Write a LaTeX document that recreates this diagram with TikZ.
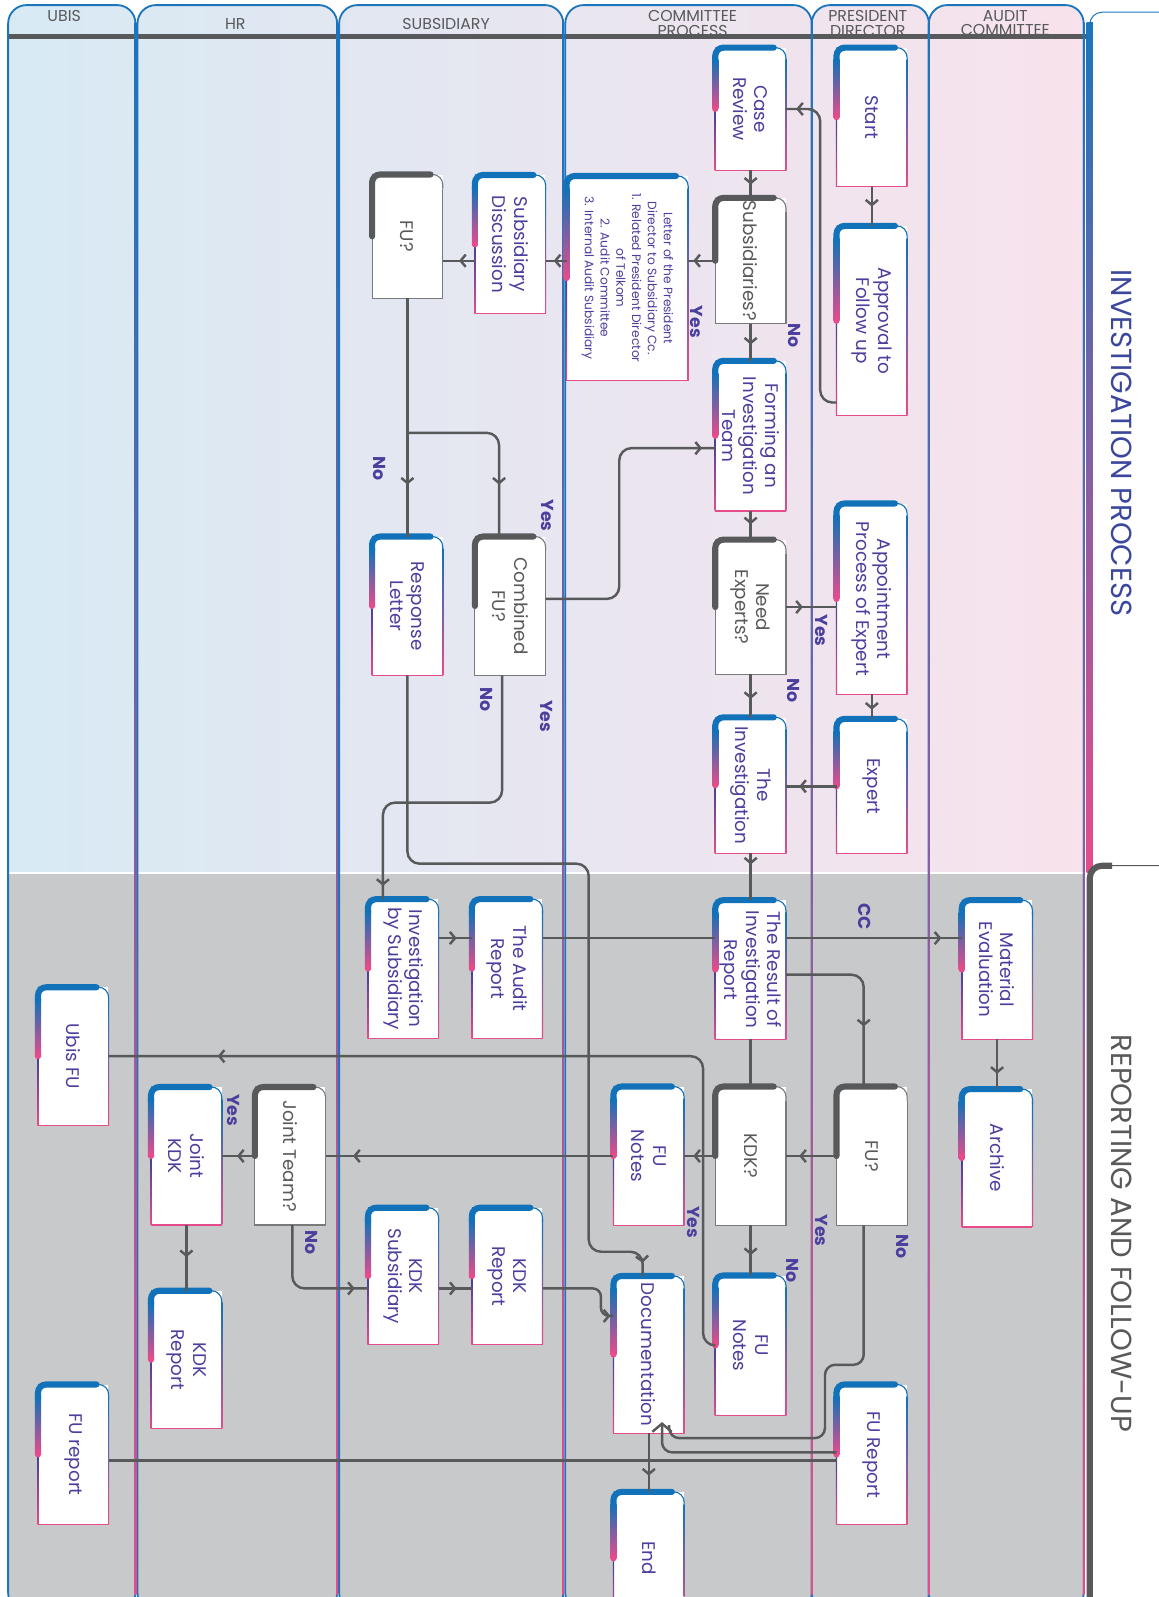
\documentclass[tikz,border=0pt]{standalone}
\usepackage{fontspec}
\setmainfont{Poppins}
\usepackage{tikz}
\usetikzlibrary{arrows.meta,calc,decorations.markings}

\definecolor{lineg}{HTML}{58595B}
\definecolor{accblue}{HTML}{1172BA}
\definecolor{accpurple}{HTML}{433F98}
\definecolor{accpink}{HTML}{E64C8B}
\definecolor{ink}{HTML}{4B3F9D}
\definecolor{lanec}{HTML}{1B75BC}
\definecolor{bggray}{HTML}{C8C9CB}
\definecolor{bgblue}{HTML}{D7EAF4}
\definecolor{bgmid}{HTML}{E5E2F0}
\definecolor{bgpink}{HTML}{F8E2EC}

\newcommand\cardfont{\fontsize{18}{21}\selectfont}
\newcommand\letterfont{\fontsize{12}{15.5}\selectfont}

\begin{document}
\begin{tikzpicture}[x=1pt,y=-1pt,
  >={Straight Barb[length=5pt,width=12pt]},
  proc/.style={fill=white,inner sep=0pt,minimum width=69,minimum height=#1},
  dec/.style={proc=#1},
  vtext/.style={rotate=-90,align=center,font=\cardfont,text=ink,inner sep=0pt},
  dtext/.style={vtext,text=lineg},
  link/.style={lineg,line width=2.4,rounded corners=12},
  flow/.style={link,postaction={decorate,decoration={markings,mark=at position #1 with {\arrow{>}}}}},
  flow/.default=-13pt,
  chev/.style={link,rounded corners=10,-{Straight Barb[length=8pt,width=19pt]}},
  yes/.style={rotate=-90,font=\fontsize{17}{17}\selectfont\bfseries,text=ink},
  lanetitle/.style={font=\fontsize{15.5}{14}\selectfont,text=lineg,align=center},
  phase/.style={rotate=-90,font=\fontsize{28.5}{28.5}\selectfont}
]
  \useasboundingbox (0,0) rectangle (1137,1568);

  % swimlanes
  \begin{scope}
    \clip[rounded corners=18] (8,5) rectangle (133,1582) (135,5) rectangle (331,1582)
      (333,5) rectangle (553,1582) (555,5) rectangle (797,1582)
      (797,5) rectangle (912,1582) (912,5) rectangle (1064,1582);
    \shade[left color=bgblue,middle color=bgmid,right color=bgpink] (0,0) rectangle (1070,857);
    \fill[bggray] (0,857) rectangle (1070,1600);
    \draw[white,line width=1.5] (0,857) -- (1070,857);
  \end{scope}
  \node[lanetitle] (tubis) at (63,16) {UBIS};
  \node[lanetitle] (thr) at (231,24) {HR};
  \node[lanetitle] (tsub) at (438,24) {SUBSIDIARY};
  \node[lanetitle] (tcom) at (680,23) {COMMITTEE\\PROCESS};
  \node[lanetitle] (tpd) at (852,23) {PRESIDENT\\DIRECTOR};
  \node[lanetitle] (taud) at (987,23) {AUDIT\\COMMITTEE};
  \draw[lineg,line width=4.5] (8,36) -- (1068,36);
  \foreach \l/\r in {8/133,135/331,333/553,555/797,797/912,912/1064}
    \draw[lanec,line width=1.8,rounded corners=18] (\l,5) rectangle (\r,1582);
  \foreach \r in {133,331,553,797,912,1064}
    \shade[top color=lanec,middle color=accpurple,bottom color=accpink] (\r-0.9,22) rectangle (\r+0.9,1566);

  % phase tabs
  \draw[lanec,line width=1,fill=white,rounded corners=12] (1070,857) -- (1070,12) -- (1150,12) -- (1150,857);
  \shade[top color=lanec,middle color=accpurple,bottom color=accpink] (1067,22) rectangle (1073,857);
  \draw[lineg,line width=1,fill=white,rounded corners=12] (1070,1600) -- (1070,850) -- (1150,850) -- (1150,1600);
  \draw[lineg,line width=6,rounded corners=12] (1070,1600) -- (1070,850) -- (1092,850);
  \node[phase,text=accpurple!85!accblue] (phaseinv) at (1101,435) {INVESTIGATION PROCESS};
  \node[phase,text=lineg] (phaserep) at (1101,1211) {REPORTING AND FOLLOW-UP};

  % president director
  \node[proc=136,label={[vtext]center:Start}] (start) at (856,115) {};
  \node[proc=186,label={[vtext]center:Approval to\\Follow up}] (approve) at (856,315) {};
  \node[proc=187,label={[vtext]center:Appointment\\Process of Expert}] (appoint) at (856,588) {};
  \node[proc=132,label={[vtext]center:Expert}] (expert) at (856,772) {};
  \node[dec=136,label={[dtext]center:FU?}] (fupd) at (856,1135) {};
  \node[proc=137,label={[vtext]center:FU Report}] (fureport) at (856,1428) {};

  % committee process
  \node[proc=120,label={[vtext]center:Case\\Review}] (review) at (737,107) {};
  \node[dec=123,label={[dtext]center:Subsidiaries?}] (subs) at (737,256) {};
  \node[proc=147,label={[vtext]center:Forming an\\Investigation\\Team}] (forming) at (737,428) {};
  \node[dec=132,label={[dtext]center:Need\\Experts?}] (needexp) at (737,596) {};
  \node[proc=133,label={[vtext]center:The\\Investigation}] (investig) at (737,771) {};
  \node[proc=136,label={[vtext]center:The Result of\\Investigation\\Report}] (result) at (737,952) {};
  \node[dec=136,label={[dtext]center:KDK?}] (kdkq) at (737,1135) {};
  \node[proc=137,label={[vtext]center:FU\\Notes}] (notesb) at (737,1321) {};
  \node[proc=200,minimum width=119,label={[vtext,font=\letterfont]center:Letter of the President\\Director to Subsidiary Cc.\\1. Related President Director\\of Telkom\\2. Audit Committee\\3. Internal Audit Subsidiary}] (letter) at (616,273) {};
  \node[proc=136,label={[vtext]center:FU\\Notes}] (notesa) at (637,1135) {};
  \node[proc=154,label={[vtext]center:Documentation}] (docu) at (637,1330) {};
  \node[proc=130,label={[vtext]center:End}] (finish) at (637,1530) {};

  % audit committee
  \node[proc=136,label={[vtext]center:Material\\Evaluation}] (mateval) at (979,952) {};
  \node[proc=135,label={[vtext]center:Archive}] (archive) at (979,1137) {};

  % subsidiary
  \node[proc=136,label={[vtext]center:Subsidiary\\Discussion}] (subdisc) at (501,240) {};
  \node[dec=121,label={[dtext]center:FU?}] (fusub) at (400,232) {};
  \node[proc=136,label={[vtext]center:Response\\Letter}] (response) at (400,595) {};
  \node[dec=136,label={[dtext]center:Combined\\FU?}] (combined) at (501,595) {};
  \node[proc=136,label={[vtext]center:Investigation\\by Subsidiary}] (invsub) at (396,951) {};
  \node[proc=136,label={[vtext]center:The Audit\\Report}] (auditrep) at (498,951) {};
  \node[proc=134,label={[vtext]center:KDK\\Subsidiary}] (kdksub) at (396,1253) {};
  \node[proc=134,label={[vtext]center:KDK\\Report}] (kdkrep) at (498,1253) {};

  % hr and ubis
  \node[dec=135,label={[dtext]center:Joint Team?}] (jointq) at (285,1135) {};
  \node[proc=135,label={[vtext]center:Joint\\KDK}] (jointkdk) at (183,1135) {};
  \node[proc=135,label={[vtext]center:KDK\\Report}] (kdkhr) at (183,1335) {};
  \node[proc=135,label={[vtext]center:Ubis FU}] (ubisfu) at (72,1037) {};
  \node[proc=137,label={[vtext]center:FU report}] (ubisrep) at (72,1428) {};

  % card frames
  \foreach \n in {start,approve,appoint,expert,fureport,review,forming,investig,result,notesb,letter,notesa,docu,finish,mateval,archive,subdisc,response,invsub,auditrep,kdksub,kdkrep,jointkdk,kdkhr,ubisfu,ubisrep}{
    \draw[line width=1.1,accblue,rounded corners=10] ([yshift=-14]\n.north east) -- (\n.north east) -- (\n.north west);
    \shade[top color=accblue,middle color=accpurple,bottom color=accpink] ([xshift=-0.55,yshift=-12]\n.north east) rectangle ([xshift=0.55]\n.south east);
    \shade[top color=accpurple,bottom color=accpink] ([xshift=-0.55]\n.west) rectangle ([xshift=0.55]\n.south west);
    \draw[line width=1.1,accpink] (\n.south west) -- (\n.south east);
    \draw[line width=6,accblue,rounded corners=8,line cap=round] ([yshift=-14]\n.north west) -- (\n.north west) -- ([xshift=-12]\n.north east);
    \shade[top color=accblue,middle color=accpurple,bottom color=accpink] ([xshift=-3,yshift=-12]\n.north west) rectangle ([xshift=3]\n.west);
    \fill[accpink] (\n.west) circle (3);
  }
  \foreach \n in {fupd,subs,needexp,kdkq,fusub,combined,jointq}{
    \draw[line width=1.1,lineg!80] ([yshift=-14]\n.north east) -- (\n.south east) -- (\n.south west) -- (\n.west);
    \draw[line width=1.1,lineg!80,rounded corners=10] ([yshift=-14]\n.north east) -- (\n.north east) -- (\n.north west);
    \draw[line width=6,lineg,rounded corners=8,line cap=round] (\n.west) -- (\n.north west) -- ([xshift=-12]\n.north east);
  }

  % connectors
  \draw[flow=-19pt] (start) -- (approve);
  \draw[flow=-10pt] ([yshift=13]approve.south west) -- ++(-16,0) |- (review.east);
  \draw[flow] (review) -- (subs);
  \draw[flow=-5pt] (subs.west) -- (subs.west -| letter.east);
  \draw[flow=-8pt] (subs.west -| letter.west) -- (subs.west -| subdisc.east);
  \draw[flow=-16pt] (subs.west -| subdisc.west) -- (subs.west -| fusub.east);
  \draw[flow=-16pt] (subs) -- (forming);
  \draw[flow=-51pt] (fusub) -- (response);
  \draw[flow=-51pt] (fusub.south |- 0,425) -| ([xshift=-11]combined.north);
  \draw[flow] ([yshift=7]combined.east) -| (608,440) -- (forming.west |- 608,440);
  \draw[flow=-15pt] (forming) -- (needexp);
  \draw[flow=-33pt] (needexp.east) -- (needexp.east -| appoint.west);
  \draw[flow=-18pt] (needexp) -- (investig);
  \draw[flow=-9pt] (appoint) -- (expert);
  \draw[flow] (expert.west) -- (expert.west -| investig.east);
  \draw[flow=-35pt] (investig) -- (result);
  \draw[flow] ([xshift=-8]combined.south) |- (376,788) -- ([xshift=-20]invsub.north);
  \draw[flow] (response.south) |- (578,848) -- (578,1229) -| ([xshift=-6]docu.north);
  \draw[flow=-15pt] ([yshift=30]invsub.east) -- ([yshift=30]invsub.east -| auditrep.west);
  \draw[link] ([yshift=30]auditrep.east) -- ([yshift=30]auditrep.east -| result.west);
  \draw[flow=-20pt] ([yshift=31]result.east) -- ([yshift=31]result.east -| mateval.west);
  \draw[flow=-59pt] ([yshift=-5]result.east) -| ([xshift=-8]fupd.north);
  \draw[link] (result) -- (kdkq);
  \draw[flow=-15pt] (mateval) -- (archive);
  \draw[flow] (fupd) -- (kdkq);
  \draw[flow=-9pt] (kdkq) -- (notesa);
  \draw[flow=-27pt] (notesa) -- (jointq);
  \draw[flow=-15pt] (jointq) -- (jointkdk);
  \draw[flow=-33pt] (jointkdk) -- (kdkhr);
  \draw[flow] ([xshift=2]jointq.south) |- ([yshift=-12]kdksub.west);
  \draw[flow=-15pt] ([yshift=-12]kdksub.east) -- ([yshift=-12]kdkrep.west);
  \draw[flow=-3pt,rounded corners=8] ([yshift=-12]kdkrep.east) -| (590,1292) -- ([yshift=38]docu.west);
  \draw[flow=-20pt] (kdkq) -- (notesb);
  \draw[flow=-107pt] (notesb.west) -- ++(-12,0) |- (ubisfu.east);
  \draw[link,rounded corners=10] ([xshift=-8]fupd.south) |- (810,1340) -- (810,1412) -| ([xshift=20,yshift=8]docu.south);
  \draw[chev] ([yshift=2]fureport.west) -| ([xshift=13,yshift=11]docu.south);
  \draw[link] ([yshift=-6]fureport.west) -- ([yshift=-6]fureport.west -| ubisrep.east);
  \draw[flow=-16pt] (docu) -- (finish);

  % branch labels
  \node[yes] (ysubs) at (684,316) {Yes};
  \node[yes] (nsubs) at (780,329) {No};
  \node[yes] (nfusub) at (373,460) {No};
  \node[yes] (yfusub) at (538,506) {Yes};
  \node[yes] (yexp) at (807,619) {Yes};
  \node[yes] (nexp) at (779,678) {No};
  \node[yes] (ncomb) at (478,687) {No};
  \node[yes] (ycomb) at (537,703) {Yes};
  \node[yes] (cc) at (849,900) {CC};
  \node[yes] (yjoint) at (229,1090) {Yes};
  \node[yes] (njoint) at (306,1220) {No};
  \node[yes] (ykdk) at (681,1200) {Yes};
  \node[yes] (yfupd) at (807,1208) {Yes};
  \node[yes] (nfupd) at (886,1224) {No};
  \node[yes] (nkdk) at (778,1247) {No};
\end{tikzpicture}
\end{document}
